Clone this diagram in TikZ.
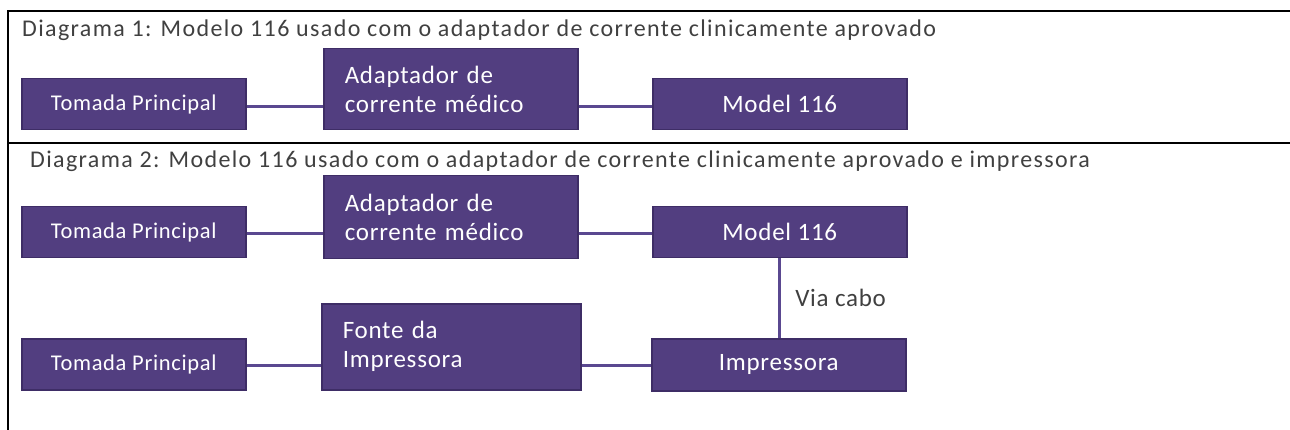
\documentclass[tikz,border=0pt]{standalone}
\usepackage{fontspec}
\setmainfont{Carlito}
\newfontfamily\titlefont[LetterSpace=5.7]{Carlito}
\newfontfamily\boxfont[LetterSpace=3]{Carlito}
\usepackage{tikz}
\usetikzlibrary{calc}
\usetikzlibrary{positioning}

\definecolor{boxfill}{HTML}{523E80}
\definecolor{boxline}{HTML}{3E2D66}
\definecolor{wire}{HTML}{5A4890}
\definecolor{caption}{HTML}{404040}

\begin{document}
\begin{tikzpicture}[x=1pt, y=-1pt,
        box/.style={rectangle, draw=boxline, line width=1.5pt, fill=boxfill, text=white, anchor=north west,
            font=\boxfont\fontsize{25}{29}\selectfont, inner sep=0pt},
        mains/.style={box, minimum width=224pt, minimum height=51pt, font=\boxfont\fontsize{22.5}{26}\selectfont},
        twoline/.style={box, align=left, text width=212pt, inner xsep=21pt},
        wire/.style={draw=wire, line width=3pt},
        title/.style={anchor=base west, text=caption, font=\titlefont\fontsize{24}{28}\selectfont, inner sep=0pt},
        frame/.style={draw=black, line width=2pt}]
            \useasboundingbox (0, 0) rectangle (1290, 430);
            \draw[frame] (1290, 11) -- (8, 11) -- (8, 430);
            \draw[frame] (8, 143) -- (1290, 143);
            % diagrama 1
            \node[title] (t1) at (22, 37) {Diagrama 1: Modelo 116 usado com o adaptador de corrente clinicamente aprovado};
            \node[mains] (tp1) at (21, 78) {Tomada Principal};
            \node[twoline, minimum height=81pt] (ad1) at (323, 48) {Adaptador de\\corrente médico};
            \node[box, minimum width=254pt, minimum height=51pt] (m1) at (652, 78) {Model 116};
            \draw[wire] ($(tp1.east) + (0, 2)$) -- ($(tp1.east -| ad1.west) + (0, 2)$);
            \draw[wire] ($(ad1.east |- m1.west) + (0, 2)$) -- ($(m1.west) + (0, 2)$);
            % diagrama 2
            \node[title] (t2) at (30, 168) {Diagrama 2: Modelo 116 usado com o adaptador de corrente clinicamente aprovado e impressora};
            \node[mains] (tp2) at (21, 206) {Tomada Principal};
            \node[twoline, minimum height=83pt] (ad2) at (323, 175) {Adaptador de\\corrente médico};
            \node[box, minimum width=254pt, minimum height=51pt] (m2) at (652, 206) {Model 116};
            \node[mains] (tp3) at (21, 338) {Tomada Principal};
            \node[twoline, text width=217pt, minimum height=86pt] (fi) at (321, 303) {Fonte da\\Impressora};
            \node[box, minimum width=254pt, minimum height=52pt] (im) at (651, 338) {Impressora};
            \draw[wire] ($(tp2.east) + (0, 1)$) -- ($(tp2.east -| ad2.west) + (0, 1)$);
            \draw[wire] ($(ad2.east |- m2.west) + (0, 1)$) -- ($(m2.west) + (0, 1)$);
            \draw[wire] ($(tp3.east) + (0, 1)$) -- ($(tp3.east -| fi.west) + (0, 1)$);
            \draw[wire] ($(fi.east |- im.west) + (0, 1)$) -- ($(im.west) + (0, 1)$);
            \draw[wire] (m2.south) -- (m2.south |- im.north)
                node[midway, right=14pt, text=caption, font=\boxfont\fontsize{25}{29}\selectfont, inner sep=0pt] (vc) {Via cabo};
        \end{tikzpicture}
\end{document}
